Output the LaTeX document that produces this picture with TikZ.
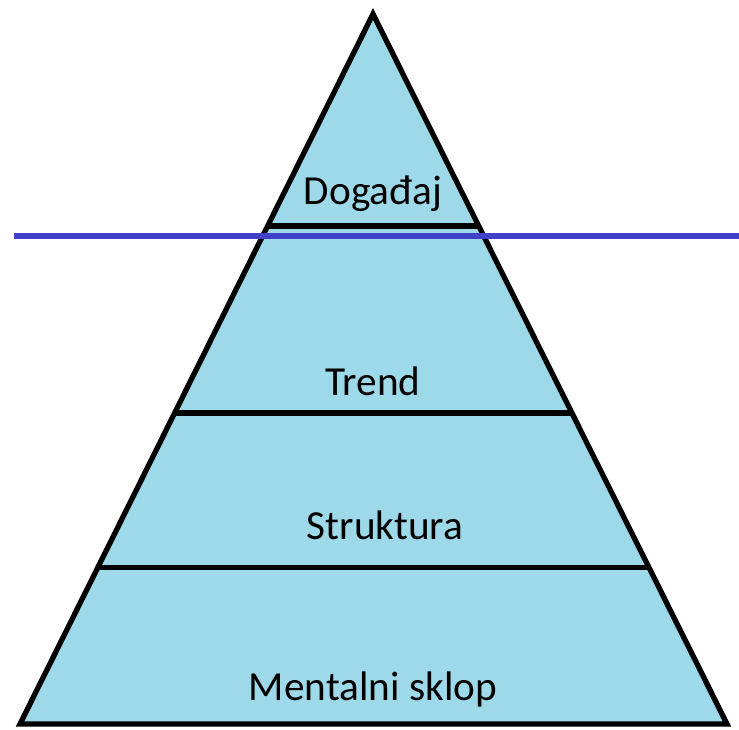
\documentclass[tikz,border=0pt]{standalone}
\usepackage{fontspec}
\setmainfont{Carlito}
\usetikzlibrary{calc}
\definecolor{levelfill}{RGB}{158,217,233}
\definecolor{cutblue}{RGB}{64,64,200}
\tikzset{
  level/.style={draw=black, line width=3pt},
  cut/.style={draw=cutblue, line width=3pt},
  lbl/.style={anchor=base, font=\fontsize{23.5}{28}\selectfont}
}
\begin{document}
\begin{tikzpicture}[x=0.02cm, y=-0.02cm]
		\useasboundingbox (0,0) rectangle (739,729);
		\coordinate (apex) at (373,14);
		\coordinate (bl) at (20,724);
		\coordinate (br) at (727,724);
		
		% pyramid
		\filldraw[level, fill=levelfill, line join=miter] (apex) -- (bl) -- (br) -- cycle;
		
		% levels
		\draw[level] ($(apex)!0.2986!(bl)$) -- ($(apex)!0.2986!(br)$);
		\draw[level] ($(apex)!0.562!(bl)$) -- ($(apex)!0.562!(br)$);
		\draw[level] ($(apex)!0.780!(bl)$) -- ($(apex)!0.780!(br)$);
		
		% event line
		\coordinate (cutL) at (14,236);
		\coordinate (cutR) at (739,236);
		\draw[cut] (cutL) -- (cutR);
		
		\node[lbl] (dogadaj) at (373,205) {Događaj};
		\node[lbl] (trend) at (373,395) {Trend};
		\node[lbl] (struktura) at (385,539) {Struktura};
		\node[lbl] (sklop) at (373,700) {Mentalni sklop};
	\end{tikzpicture}
\end{document}
